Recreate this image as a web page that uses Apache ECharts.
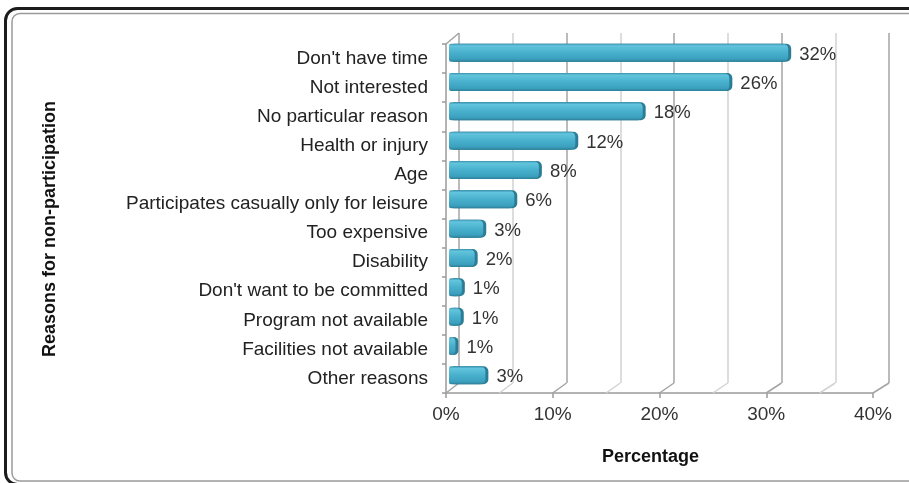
<!DOCTYPE html>
<html><head><meta charset="utf-8">
<script src="https://cdn.jsdelivr.net/npm/echarts@6/dist/echarts.min.js"></script>
<style>html,body{margin:0;padding:0;background:#fff}#c{width:909px;height:483px}</style>
</head><body><div id="c"></div>
<script>
const categories = ["Don't have time", "Not interested", "No particular reason", "Health or injury", "Age",
  "Participates casually only for leisure", "Too expensive", "Disability", "Don't want to be committed",
  "Program not available", "Facilities not available", "Other reasons"];
const percentages = [31.7, 26.2, 18.1, 11.8, 8.4, 6.1, 3.2, 2.4, 1.2, 1.1, 0.6, 3.4];
const xMin = 0, xMax = 40, xMajorStep = 10, xMinorStep = 5;
const xAxisTitle = 'Percentage';
const yAxisTitle = 'Reasons for non-participation';

const FONT = '"Liberation Sans", Arial, sans-serif';
const FRONT = {left: 446, top: 44, width: 427, height: 349};
const BACK = {left: 459, top: 33, width: 430, height: 350};
const BARS = {left: 449, top: 38, width: 428, height: 352};

const chart = echarts.init(document.getElementById('c'), null, {renderer: 'canvas'});
const option = {
  animation: false,
  backgroundColor: '#fff',
  grid: [FRONT, BACK, BARS],
  xAxis: [
    {gridIndex: 0, type: 'value', min: xMin, max: xMax, interval: xMajorStep,
      axisLine: {show: true, lineStyle: {color: '#9a9a9a', width: 1.5}},
      axisTick: {show: true, length: 5, lineStyle: {color: '#9a9a9a', width: 1.5}},
      axisLabel: {formatter: '{value}%', fontSize: 19, color: '#333', margin: 12, fontFamily: FONT},
      splitLine: {show: false}},
    {gridIndex: 1, type: 'value', min: xMin, max: xMax, interval: xMinorStep,
      axisLine: {show: false}, axisTick: {show: false}, axisLabel: {show: false},
      splitLine: {show: true, lineStyle: {color: ['#a4a4a4', '#d2d2d2'], width: 1.5}}},
    {gridIndex: 2, type: 'value', min: xMin, max: xMax, show: false, splitLine: {show: false}}
  ],
  yAxis: [
    {gridIndex: 0, type: 'category', data: categories, inverse: true,
      axisLine: {show: true, lineStyle: {color: '#9a9a9a', width: 1.5}},
      axisTick: {show: true, length: 4, lineStyle: {color: '#9a9a9a', width: 1.5}},
      axisLabel: {fontSize: 19, color: '#222', margin: 18, fontFamily: FONT}},
    {gridIndex: 1, type: 'category', data: categories, inverse: true, show: false},
    {gridIndex: 2, type: 'category', data: categories, inverse: true, show: false}
  ],
  series: [{
    type: 'bar', xAxisIndex: 2, yAxisIndex: 2, data: percentages, barWidth: 18, z: 5,
    itemStyle: {
      color: new echarts.graphic.LinearGradient(0, 0, 0, 1, [
        {offset: 0, color: '#3a93ae'},
        {offset: 0.12, color: '#63c4dd'},
        {offset: 0.5, color: '#48b0cc'},
        {offset: 0.85, color: '#3ba0be'},
        {offset: 1, color: '#2c7f98'}
      ]),
      borderRadius: [2, 5, 5, 2],
      shadowColor: '#2b7d96', shadowOffsetX: 3, shadowOffsetY: 0, shadowBlur: 0
    },
    label: {show: true, position: 'right', distance: 11, offset: [0, 2],
      formatter: p => Math.round(p.value) + '%', fontSize: 18.5, color: '#333', fontFamily: FONT}
  }]
};
chart.setOption(option);

// pseudo-3D floor and wall edges derived from axis scales
const graphics = [];
const frontBottom = FRONT.top + FRONT.height;
const backBottom = BACK.top + BACK.height;
for (let v = xMin; v <= xMax; v += xMinorStep) {
  const xf = chart.convertToPixel({xAxisIndex: 0}, v);
  const xb = chart.convertToPixel({xAxisIndex: 1}, v);
  const major = (v % xMajorStep) === 0;
  graphics.push({type: 'line', z: 1, shape: {x1: xf, y1: frontBottom, x2: xb, y2: backBottom},
    style: {stroke: major ? '#a4a4a4' : '#d2d2d2', lineWidth: 1.5}});
}
const xf0 = chart.convertToPixel({xAxisIndex: 0}, xMin);
const xb0 = chart.convertToPixel({xAxisIndex: 1}, xMin);
graphics.push({type: 'line', z: 1, shape: {x1: xf0, y1: FRONT.top, x2: xb0, y2: BACK.top},
  style: {stroke: '#a4a4a4', lineWidth: 1.5}});
// frame
graphics.push({type: 'rect', z: 0, shape: {x: 5.5, y: 8.5, width: 930, height: 476, r: 12},
  style: {fill: 'none', stroke: '#1c1c1c', lineWidth: 3}});
graphics.push({type: 'rect', z: 0, shape: {x: 12, y: 13.5, width: 920, height: 467.5, r: 8},
  style: {fill: 'none', stroke: '#9a9a9a', lineWidth: 1.5}});
// titles
graphics.push({type: 'text', z: 3, x: 650.5, y: 457, style: {text: xAxisTitle, font: 'bold 18px ' + FONT,
  fill: '#111', textAlign: 'center', textVerticalAlign: 'middle'}});
graphics.push({type: 'text', z: 3, x: 50, y: 229, rotation: Math.PI / 2, style: {text: yAxisTitle,
  font: 'bold 18px ' + FONT, fill: '#111', textAlign: 'center', textVerticalAlign: 'middle'}});
chart.setOption({graphic: {elements: graphics}});
</script>
</body></html>
